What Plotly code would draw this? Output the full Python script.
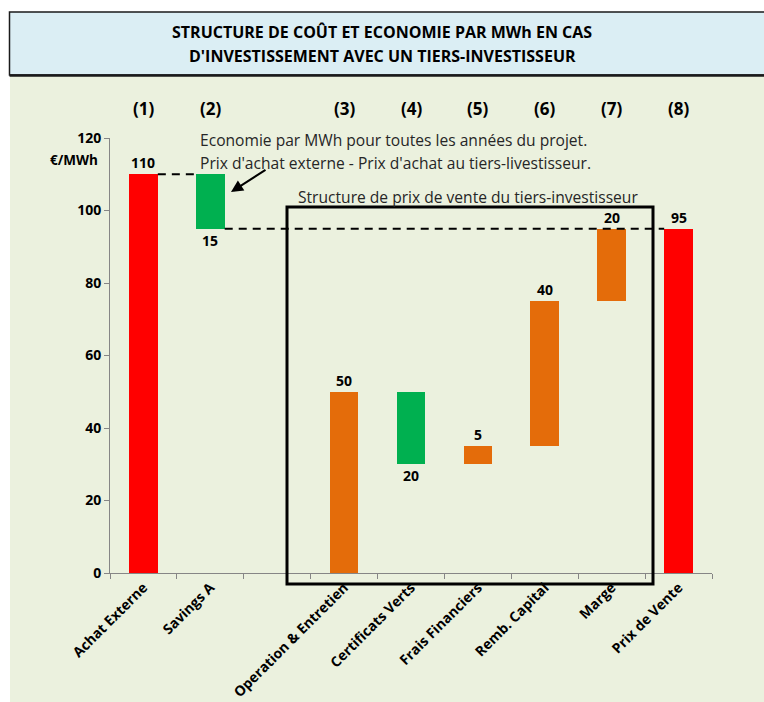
import plotly.graph_objects as go

# ---- data ----
categories = ["Achat Externe", "Savings A", " ", "Operation & Entretien", "Certificats Verts",
              "Frais Financiers", "Remb. Capital", "Marge", "Prix de Vente"]
bar_categories = ["Achat Externe", "Savings A", "Operation & Entretien", "Certificats Verts",
                  "Frais Financiers", "Remb. Capital", "Marge", "Prix de Vente"]
bases = [0, 95, 0, 30, 30, 35, 75, 0]
heights = [110, 15, 50, 20, 5, 40, 20, 95]
label_below = [False, True, False, True, False, False, False, False]
bar_kind = ["total", "saving", "cost", "saving", "cost", "cost", "cost", "total"]
step_numbers = ["(1)", "(2)", "(3)", "(4)", "(5)", "(6)", "(7)", "(8)"]
y_ticks = [0, 20, 40, 60, 80, 100, 120]

title_lines = ["STRUCTURE DE COÛT ET ECONOMIE PAR MWh EN CAS",
               "D'INVESTISSEMENT AVEC UN TIERS-INVESTISSEUR"]
note_lines = ["Economie par MWh pour toutes les années du projet.",
              "Prix d'achat externe - Prix d'achat au tiers-livestisseur."]
box_label = "Structure de prix de vente du tiers-investisseur"
y_unit = "€/MWh"

# ---- styles ----
FONT = "Open Sans"
COLORS = {"total": "#FF0000", "saving": "#00B050", "cost": "#E46C0A"}
BG = "#EBF1DE"
W, H = 764, 702
L, R, T, B = 110, 712, 138, 573   # plot area in screen pixels
BAR_W = 0.43


def px(x):
    return (x - L) / (R - L)


def py(y):
    return (B - y) / (B - T)


fig = go.Figure()
fig.add_trace(go.Bar(
    x=bar_categories, y=heights, base=bases, width=BAR_W,
    marker=dict(color=[COLORS[k] for k in bar_kind], line=dict(width=0)),
    hoverinfo="skip", showlegend=False,
))

annotations = []
for cat, b, h, below in zip(bar_categories, bases, heights, label_below):
    annotations.append(dict(
        x=cat, y=b if below else b + h, xref="x", yref="y",
        text=f"<b>{h}</b>", showarrow=False,
        yanchor="top" if below else "bottom", yshift=0,
        font=dict(family=FONT, size=14, color="#000000"),
    ))
for cat, s in zip(bar_categories, step_numbers):
    annotations.append(dict(
        x=cat, y=py(108), xref="x", yref="paper", text=f"<b>{s}</b>",
        showarrow=False, yanchor="middle",
        font=dict(family=FONT, size=17, color="#000000"),
    ))
for i, line in enumerate(title_lines):
    annotations.append(dict(
        x=px(382), y=py(32 + 24 * i), xref="paper", yref="paper",
        text=f"<b>{line}</b>", showarrow=False, yanchor="middle", xanchor="center",
        font=dict(family=FONT, size=16, color="#000000"),
    ))
for i, line in enumerate(note_lines):
    annotations.append(dict(
        x=px(198), y=py(140 + 23 * i), xref="paper", yref="paper",
        text=line, showarrow=False, yanchor="middle", xanchor="left",
        font=dict(family=FONT, size=15.6, color="#262626"),
    ))
annotations.append(dict(
    x=px(296), y=py(197), xref="paper", yref="paper", text=box_label,
    showarrow=False, yanchor="middle", xanchor="left",
    font=dict(family=FONT, size=15.6, color="#262626"),
))
annotations.append(dict(
    x=px(100), y=py(160), xref="paper", yref="paper", text=f"<b>{y_unit}</b>",
    showarrow=False, yanchor="middle", xanchor="right",
    font=dict(family=FONT, size=13.5, color="#000000"),
))
annotations.append(dict(
    x=px(231), y=py(192), xref="paper", yref="paper", text="",
    showarrow=True, axref="pixel", ayref="pixel", ax=36, ay=-23,
    arrowhead=2, arrowsize=1.2, arrowwidth=2, arrowcolor="#000000",
))

shapes = [
    dict(type="rect", xref="paper", yref="paper", x0=px(-20), x1=px(790), y0=py(75), y1=py(-20),
         fillcolor="#FFFFFF", line=dict(width=0), layer="below"),
    dict(type="rect", xref="paper", yref="paper", x0=px(-20), x1=px(10), y0=py(720), y1=py(-20),
         fillcolor="#FFFFFF", line=dict(width=0), layer="below"),
    dict(type="rect", xref="paper", yref="paper", x0=px(9.5), x1=px(790), y0=py(75), y1=py(12),
         fillcolor="#DBEEF4", line=dict(color="#1A1A1A", width=1.5), layer="below"),
    dict(type="line", xref="paper", yref="paper", x0=px(9.5), x1=px(790), y0=py(75.5), y1=py(75.5),
         line=dict(color="#1A1A1A", width=2.5)),
    dict(type="line", xref="x", yref="y", x0=0 + BAR_W / 2, x1=1 - BAR_W / 2,
         y0=bases[0] + heights[0], y1=bases[0] + heights[0],
         line=dict(color="#000000", width=2, dash="8px,6px")),
    dict(type="line", xref="x", yref="y", x0=1 + BAR_W / 2, x1=8 - BAR_W / 2,
         y0=bases[1], y1=bases[1],
         line=dict(color="#000000", width=2, dash="8px,6px")),
    dict(type="rect", xref="paper", yref="paper", x0=px(287), x1=px(653), y0=py(584), y1=py(207),
         line=dict(color="#000000", width=3), fillcolor="rgba(0,0,0,0)"),
]

fig.update_layout(
    width=W, height=H,
    margin=dict(l=L, r=W - R, t=T, b=H - B, pad=0, autoexpand=False),
    paper_bgcolor=BG, plot_bgcolor="rgba(0,0,0,0)",
    annotations=annotations, shapes=shapes,
    xaxis=dict(
        type="category", categoryorder="array", categoryarray=categories,
        range=[-0.5, 8.5], tickson="boundaries", ticks="outside", ticklen=5,
        tickcolor="#868686", showline=True, linecolor="#868686", linewidth=1,
        showgrid=False, zeroline=False, tickangle=-45, automargin=False,
        tickfont=dict(family=FONT, size=14, color="#000000", weight="bold"),
    ),
    yaxis=dict(
        range=[0, 120], tickvals=y_ticks, ticks="outside", ticklen=5,
        tickcolor="#868686", showline=True, linecolor="#868686", linewidth=1,
        showgrid=False, zeroline=False, automargin=False,
        tickfont=dict(family=FONT, size=14, color="#000000", weight="bold"),
    ),
    bargap=0,
)

fig.write_html("out.html", config={"displayModeBar": False},
               post_script="document.body.style.margin='0';")
